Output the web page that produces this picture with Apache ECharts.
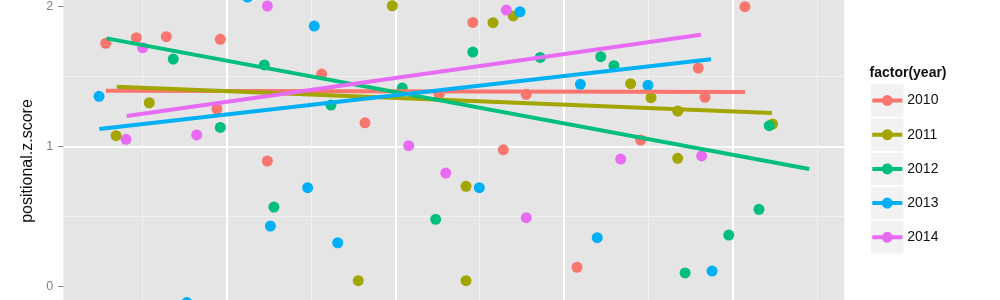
<!DOCTYPE html>
<html>
<head>
<meta charset="utf-8">
<script src="https://cdn.jsdelivr.net/npm/echarts@6/dist/echarts.min.js"></script>
<style>
  html, body { margin: 0; padding: 0; background: #ffffff; }
  #chart { width: 1000px; height: 300px; }
</style>
</head>
<body>
<div id="chart"></div>
<script>
// ---- data ----
const years = ['2010', '2011', '2012', '2013', '2014'];
const colors = ['#F8766D', '#A3A500', '#00BF7D', '#00B0F6', '#E76BF3'];
const yTicks = [0, 1, 2];

const x2010 = [0.283, 0.464, 0.642, 0.962, 0.942, 1.241, 1.563, 1.820, 2.259, 2.459, 2.640, 2.776, 3.077, 3.455, 3.796, 3.836, 4.073];
const y2010 = [1.739, 1.779, 1.786, 1.767, 1.269, 0.898, 1.519, 1.171, 1.374, 1.888, 0.978, 1.374, 0.139, 1.048, 1.562, 1.353, 2.000];

const x2011 = [0.344, 0.541, 1.780, 1.982, 2.419, 2.419, 2.579, 2.699, 3.395, 3.516, 3.674, 3.674, 4.237];
const y2011 = [1.079, 1.314, 0.043, 2.007, 0.717, 0.043, 1.886, 1.934, 1.450, 1.350, 1.255, 0.917, 1.162];

const x2012 = [0.683, 0.962, 1.223, 1.280, 1.618, 2.041, 2.239, 2.459, 2.859, 3.218, 3.296, 3.718, 3.977, 4.156, 4.217];
const y2012 = [1.626, 1.138, 1.584, 0.569, 1.298, 1.419, 0.481, 1.676, 1.638, 1.643, 1.579, 0.098, 0.369, 0.553, 1.150];

const x2013 = [0.243, 0.763, 1.124, 1.259, 1.480, 1.519, 1.658, 2.498, 2.739, 3.097, 3.197, 3.498, 3.878];
const y2013 = [1.360, -0.113, 2.069, 0.433, 0.707, 1.862, 0.314, 0.707, 1.964, 1.446, 0.350, 1.439, 0.112];

const x2014 = [0.403, 0.502, 0.822, 1.241, 2.079, 2.299, 2.658, 2.776, 3.336, 3.816];
const y2014 = [1.053, 1.707, 1.084, 2.005, 1.007, 0.812, 1.976, 0.493, 0.912, 0.934];

// linear-fit lines (start / end) per year
const fit2010 = [[0.284, 1.400], [4.073, 1.391]];
const fit2011 = [[0.348, 1.429], [4.233, 1.241]];
const fit2012 = [[0.288, 1.774], [4.454, 0.841]];
const fit2013 = [[0.245, 1.126], [3.872, 1.624]];
const fit2014 = [[0.407, 1.219], [3.812, 1.800]];

// ---- build ----
const xs = [x2010, x2011, x2012, x2013, x2014];
const ys = [y2010, y2011, y2012, y2013, y2014];
const fits = [fit2010, fit2011, fit2012, fit2013, fit2014];

const FONT = '"Liberation Sans", Arial, Helvetica, sans-serif';
const series = [];
years.forEach((yr, i) => {
  series.push({
    name: yr,
    type: 'scatter',
    data: xs[i].map((x, k) => [x, ys[i][k]]),
    symbol: 'circle',
    symbolSize: 11,
    clip: false,
    itemStyle: { color: colors[i], opacity: 1 },
    z: 2,
    silent: true
  });
});
years.forEach((yr, i) => {
  series.push({
    name: yr + ' fit',
    type: 'line',
    data: fits[i],
    showSymbol: false,
    symbol: 'none',
    lineStyle: { color: colors[i], width: 4, cap: 'butt' },
    itemStyle: { color: colors[i] },
    z: 3,
    silent: true
  });
});

const keyIcon = 'path://M0,3.5L9.877,3.5A5.5,5.5,0,0,1,20.123,3.5L30,3.5L30,7.5L20.123,7.5A5.5,5.5,0,0,1,9.877,7.5L0,7.5Z';

const chart = echarts.init(document.getElementById('chart'), null, { renderer: 'canvas' });
chart.setOption({
  animation: false,
  textStyle: { fontFamily: FONT },
  title: {
    text: 'factor(year)',
    left: 869.5,
    top: 66,
    padding: 0,
    textStyle: { fontSize: 14, fontWeight: 'bold', color: '#111111', fontFamily: FONT }
  },
  legend: {
    data: years,
    orient: 'vertical',
    left: 872.3,
    top: 92.5,
    padding: 0,
    itemWidth: 30,
    itemHeight: 11,
    itemGap: 18.2,
    icon: keyIcon,
    selectedMode: false,
    textStyle: { fontSize: 14, color: '#111111', lineHeight: 16, fontFamily: FONT }
  },
  graphic: years.map((yr, i) => ({
    type: 'rect',
    x: 871,
    y: 84.3 + i * 34.2,
    shape: { width: 32.5, height: 32.4 },
    style: { fill: '#F2F2F2' },
    silent: true,
    z: -1
  })),
  grid: {
    left: 63.3,
    right: 155.7,
    top: 0,
    bottom: 0,
    show: true,
    backgroundColor: '#E5E5E5',
    borderWidth: 0,
    containLabel: false
  },
  xAxis: {
    type: 'value',
    min: 0.0311,
    max: 4.662,
    splitNumber: 5,
    axisLine: { show: false },
    axisTick: { show: false },
    axisLabel: { show: false },
    splitLine: { show: true, showMinLine: false, showMaxLine: false, lineStyle: { color: '#FFFFFF', width: 2 } },
    minorTick: { show: false, splitNumber: 2 },
    minorSplitLine: { show: true, lineStyle: { color: '#F2F2F2', width: 1 } }
  },
  yAxis: {
    type: 'value',
    min: -0.095,
    max: 2.048,
    splitNumber: 2,
    name: 'positional.z.score',
    nameLocation: 'middle',
    nameGap: 23,
    nameTextStyle: { fontSize: 16, color: '#111111', fontFamily: FONT, padding: [0, 22, 0, 0] },
    axisLine: { show: false },
    axisTick: { show: true, length: 5, lineStyle: { color: '#7F7F7F', width: 1 }, customValues: yTicks },
    axisLabel: {
      show: true, color: '#7F7F7F', fontSize: 12.5, margin: 10,
      customValues: yTicks,
      fontFamily: FONT
    },
    splitLine: { show: true, showMinLine: false, showMaxLine: false, lineStyle: { color: '#FFFFFF', width: 2 } },
    minorTick: { show: false, splitNumber: 2 },
    minorSplitLine: { show: true, lineStyle: { color: '#F2F2F2', width: 1 } }
  },
  series: series
});
</script>
</body>
</html>
